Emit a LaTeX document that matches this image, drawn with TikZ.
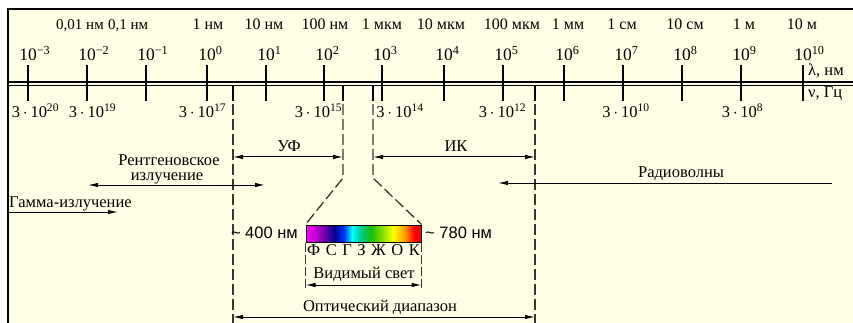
\documentclass[tikz,border=0pt]{standalone}
\usepackage{fontspec}
\setmainfont{Liberation Serif}
\newfontfamily\labelsans{Liberation Sans}
\usetikzlibrary{arrows.meta}

\definecolor{paper}{RGB}{255,255,230}
\definecolor{guide}{RGB}{55,55,55}

% visible spectrum, violet to red (25bp..75bp spans the filled box)
\pgfdeclarehorizontalshading{spectrum}{100bp}{%
  rgb(0bp)=(1,0,1); rgb(25bp)=(1,0,1);
  rgb(32bp)=(0.55,0,0.7); rgb(37.5bp)=(0,0,0.55);
  rgb(41.5bp)=(0,0.2,1); rgb(45bp)=(0,1,1);
  rgb(49bp)=(0,0.78,0.55); rgb(53.5bp)=(0.1,0.75,0);
  rgb(59bp)=(0.6,0.9,0); rgb(63bp)=(1,1,0);
  rgb(68bp)=(1,0.6,0); rgb(72bp)=(1,0,0);
  rgb(75bp)=(1,0,0); rgb(100bp)=(1,0,0)}

\tikzset{
  txt/.style={inner sep=0pt, anchor=base, font=\fontsize{16.5}{18}\selectfont},
  unitname/.style={inner sep=0pt, anchor=base, font=\fontsize{16}{18}\selectfont},
  smallunit/.style={inner sep=0pt, anchor=base, font=\fontsize{15}{17}\selectfont},
  pow/.style={inner sep=0pt, anchor=base, font=\fontsize{17.5}{20}\selectfont},
  sanstxt/.style={inner sep=0pt, font=\labelsans\fontsize{16.5}{18}\selectfont},
  tick/.style={line width=1.4pt, black},
  guideline/.style={line width=1.3pt, guide, dash pattern=on 11pt off 4pt},
  span/.style={line width=1pt, black, {Latex[length=10pt,width=4.5pt]}-{Latex[length=10pt,width=4.5pt]}},
  oneway/.style={line width=1pt, black, -{Latex[length=10pt,width=4.5pt]}},
}

\newcommand{\powlabel}[1]{\hbox to 0pt{\hss 10\rlap{\textsuperscript{#1}}\hss}}
\newcommand{\freqlabel}[1]{3\,$\cdot$\,10\textsuperscript{#1}}

\begin{document}
\begin{tikzpicture}[x=1pt, y=-1pt]
  \useasboundingbox (0,0) rectangle (853,323);
  % paper and frame
  \fill[white] (0,0) rectangle (853,323);
  \fill[paper] (8,9) rectangle (853,323);
  \draw[line width=2pt] (8,323) -- (8,9) -- (853,9);

  % double axis line
  \draw[line width=1.2pt] (8,82) -- (853,82);
  \draw[line width=1.2pt] (8,85.5) -- (853,85.5);

  % decade ticks with wavelength labels
  \foreach \x/\e/\n in {28/−3/a, 87/−2/b, 146/−1/c, 207/0/d, 266/1/e, 324/2/f,
                        382/3/g, 444/4/h, 503/5/i, 564/6/j, 623/7/k, 682/8/l,
                        741/9/m, 803/10/n} {
    \draw[tick] (\x,65) -- (\x,101);
    \node[pow] (pw\n) at (\x,61) {\powlabel{\e}};
  }

  % named lengths
  \node[smallunit] (lena) at (80,30) {0,01 нм};
  \node[smallunit, anchor=base west] (lenb) at (108,30) {0,1 нм};
  \foreach \x/\t/\n in {208/{1 нм}/c,
                        264/{10 нм}/d, 325/{100 нм}/e, 382/{1 мкм}/f,
                        441/{10 мкм}/g, 512/{100 мкм}/h, 568/{1 мм}/i,
                        622/{1 см}/j, 685/{10 см}/k, 744/{1 м}/l, 802/{10 м}/m}
    \node[unitname] (len\n) at (\x,30) {\t};

  % frequency labels
  \foreach \x/\e/\n in {35.5/20/a, 92.5/19/b, 202.5/17/c, 318.5/15/d,
                        400/14/e, 502.5/12/f, 626/10/g, 742.5/8/h}
    \node[txt] (fq\n) at (\x,118) {\freqlabel{\e}};

  \node[txt, anchor=base west] (lam) at (808,76) {λ, нм};
  \node[txt, anchor=base west] (nu) at (808,98) {ν, Гц};

  % band boundaries
  \foreach \x in {233,343,373,535} \draw[tick] (\x,85.5) -- (\x,101);
  \draw[guideline] (233,104) -- (233,323);
  \draw[guideline] (535,104) -- (535,323);

  % visible spectrum strip
  \node[draw=black, line width=1pt, inner sep=0pt, minimum width=115pt,
        minimum height=17pt, shading=spectrum] (bar) at (363.5,233.5) {};
  \draw[guideline] (343,104) -- (343,178) -- (bar.north west);
  \draw[guideline] (373,104) -- (373,178) -- (bar.north east);
  \coordinate (visL) at (bar.south west |- 0,290);
  \coordinate (visR) at (bar.south east |- 0,290);
  \draw[guideline, dash pattern=on 9pt off 3pt] (bar.south west) -- (visL);
  \draw[guideline, dash pattern=on 9pt off 3pt] (bar.south east) -- (visR);

  \node[sanstxt, anchor=base east] (v400) at (298,238) {\textasciitilde\ 400 нм};
  \node[sanstxt, anchor=base west] (v780) at (425,238) {\textasciitilde\ 780 нм};
  \node[txt] (colours) at (363.5,255) {Ф\hspace{5.5pt}С\hspace{5.5pt}Г\hspace{5.5pt}З\hspace{5.5pt}Ж\hspace{5.5pt}О\hspace{5.5pt}К};
  \node[txt] (vistxt) at (364,278) {Видимый свет};
  \draw[span] (bar.south west |- 0,285) coordinate (visaL) -- (bar.south east |- 0,285) coordinate (visaR);

  % band spans
  \coordinate (uvL) at (233,157); \coordinate (uvR) at (343,157);
  \draw[span] (uvL) -- (uvR);
  \node[txt] (uvtxt) at (289,152) {УФ};

  \coordinate (irL) at (373,157); \coordinate (irR) at (535,157);
  \draw[span] (irL) -- (irR);
  \node[txt] (irtxt) at (456,152) {ИК};

  \coordinate (xrL) at (88,185); \coordinate (xrR) at (265,185);
  \draw[span] (xrL) -- (xrR);
  \node[txt] (xrtxt1) at (169,165) {Рентгеновское};
  \node[txt] (xrtxt2) at (167,180) {излучение};

  \coordinate (gmL) at (8,212); \coordinate (gmR) at (118,212);
  \draw[oneway] (gmL) -- (gmR);
  \node[txt, anchor=base west] (gmtxt) at (9,207) {Гамма-излучение};

  \coordinate (rdR) at (832,183); \coordinate (rdL) at (498,183);
  \draw[oneway] (rdR) -- (rdL);
  \node[txt] (rdtxt) at (681,178) {Радиоволны};

  \coordinate (opL) at (233,317); \coordinate (opR) at (535,317);
  \draw[span] (opL) -- (opR);
  \node[txt] (optxt) at (380,311) {Оптический диапазон};
\end{tikzpicture}
\end{document}
